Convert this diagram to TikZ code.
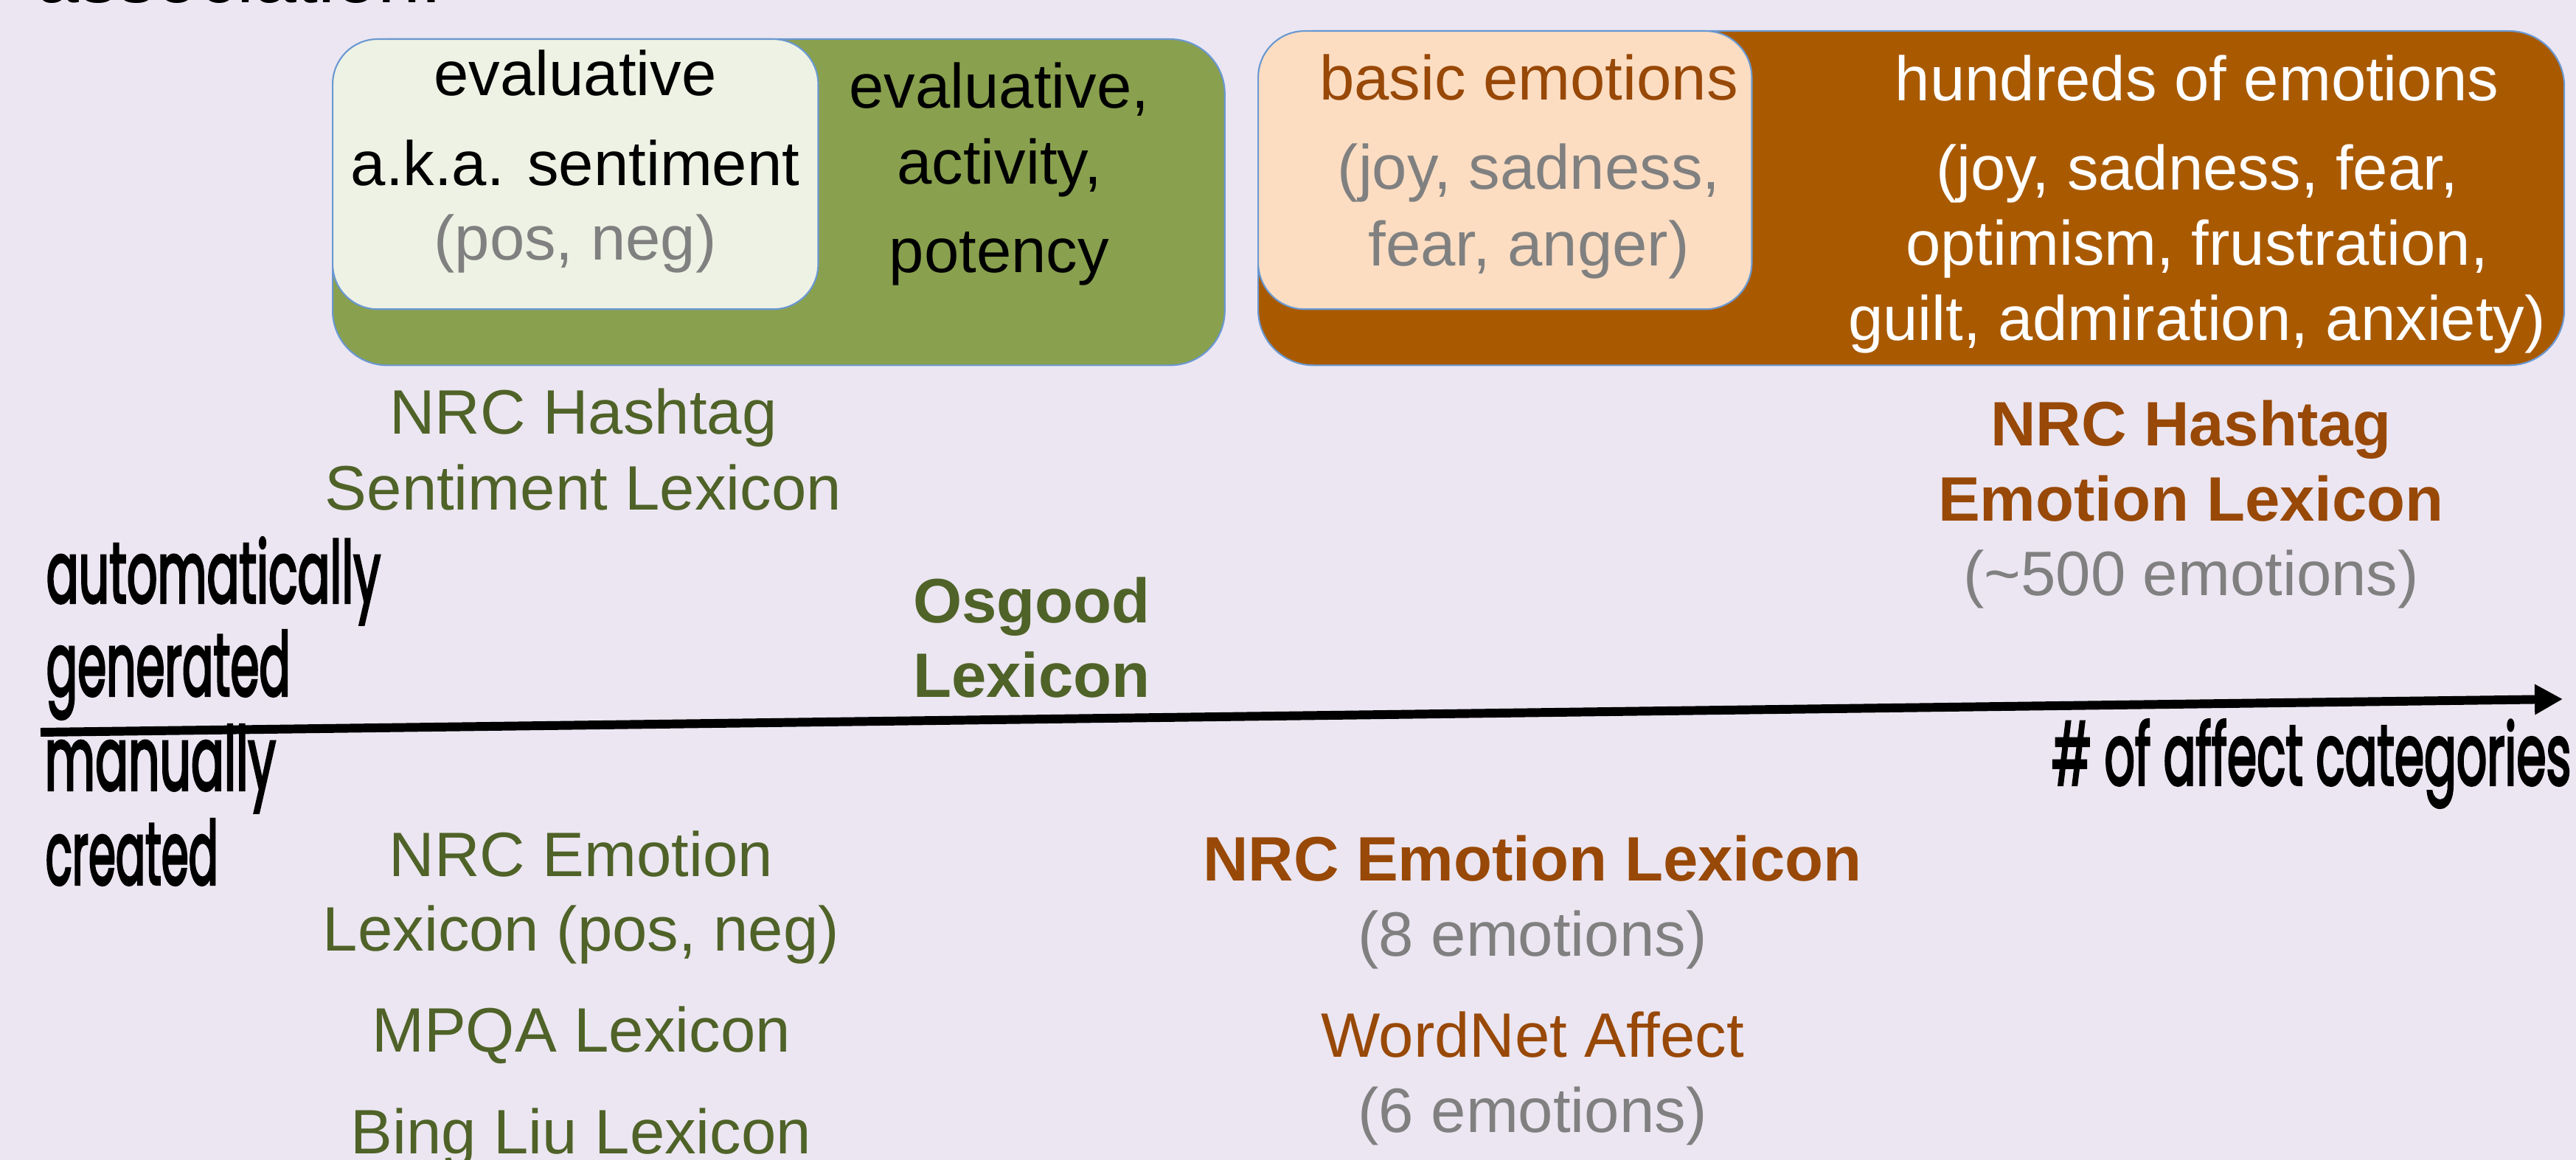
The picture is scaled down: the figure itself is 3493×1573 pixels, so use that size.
\documentclass[tikz,border=0pt]{standalone}
\usepackage{fontspec}
\usepackage{graphicx}
\setmainfont{Liberation Sans}
\newfontfamily\condfont{Poppins}[FakeBold=3.5]
\usetikzlibrary{arrows.meta}
\definecolor{bg}{HTML}{EBE6F1}
\definecolor{gdark}{HTML}{89A04E}
\definecolor{glight}{HTML}{EEF2E4}
\definecolor{odark}{HTML}{A95A00}
\definecolor{olight}{HTML}{FCDDC2}
\definecolor{gtext}{HTML}{4F6228}
\definecolor{otext}{HTML}{984807}
\definecolor{graytext}{HTML}{808080}
\definecolor{bord}{HTML}{6A98D2}
\newcommand{\condtxt}[2]{\resizebox{#1}{0.88cm}{\condfont #2}}
\tikzset{
  lbl/.style={anchor=base, inner sep=0pt, font=\fontsize{24.2pt}{29pt}\selectfont},
  lblb/.style={lbl, font=\fontsize{24.2pt}{29pt}\selectfont\bfseries},
  boxo/.style={draw=bord, line width=0.6pt, anchor=north west, inner sep=0pt},
  axislbl/.style={anchor=base west, inner sep=0pt}
}
\begin{document}
\begin{tikzpicture}[x=0.01cm,y=-0.01cm]
\useasboundingbox (0,0) rectangle (3493,1573);
\clip (0,0) rectangle (3493,1573);
\fill[bg] (0,0) rectangle (3493,1573);

% partial title at top
\node[anchor=base west, inner sep=0pt, font=\fontsize{29.6pt}{34pt}\selectfont] (title) at (49,4) {association.};

% green boxes
\node[boxo, fill=gdark, rounded corners=0.74cm, minimum width=12.09cm, minimum height=4.42cm] (gout) at (450,52) {};
\node[boxo, fill=glight, rounded corners=0.61cm, minimum width=6.58cm, minimum height=3.66cm] (gin) at (450,52) {};

% orange boxes
\node[boxo, fill=odark, rounded corners=0.75cm, minimum width=17.70cm, minimum height=4.53cm] (oout) at (1705,41) {};
\node[boxo, fill=olight, rounded corners=0.63cm, minimum width=6.69cm, minimum height=3.77cm] (oin) at (1705,41) {};

% green box texts
\node[lbl] (g1) at (780,130) {evaluative};
\node[lbl] (g2) at (780,252) {a.k.a. sentiment};
\node[lbl, text=graytext] (g3) at (780,353) {(pos, neg)};
\node[lbl] (g4) at (1355,147) {evaluative,};
\node[lbl] (g5) at (1355,250) {activity,};
\node[lbl] (g6) at (1355,370) {potency};

% orange box texts
\node[lbl, text=otext] (o1) at (2073,136) {basic emotions};
\node[lbl, text=graytext] (o2) at (2073,257) {(joy, sadness,};
\node[lbl, text=graytext] (o3) at (2073,361) {fear, anger)};
\node[lbl, text=white] (o4) at (2979,137) {hundreds of emotions};
\node[lbl, text=white] (o5) at (2979,258) {(joy, sadness, fear,};
\node[lbl, text=white] (o6) at (2979,360) {optimism, frustration,};
\node[lbl, text=white] (o7) at (2979,462) {guilt, admiration, anxiety)};

% upper lexicons
\node[lbl, text=gtext] (hs1) at (791,589) {NRC Hashtag};
\node[lbl, text=gtext] (hs2) at (791,691) {Sentiment Lexicon};
\node[lblb, text=gtext] (os1) at (1399,844) {Osgood};
\node[lblb, text=gtext] (os2) at (1399,945) {Lexicon};
\node[lblb, text=otext] (he1) at (2971,605) {NRC Hashtag};
\node[lblb, text=otext] (he2) at (2971,706) {Emotion Lexicon};
\node[lbl, text=graytext] (he3) at (2971,807) {(\textasciitilde 500 emotions)};

% lower lexicons
\node[lbl, text=gtext] (ne1) at (788,1188) {NRC Emotion};
\node[lbl, text=gtext] (ne2) at (788,1289) {Lexicon (pos, neg)};
\node[lbl, text=gtext] (mp) at (788,1426) {MPQA Lexicon};
\node[lbl, text=gtext] (bl) at (788,1564) {Bing Liu Lexicon};
\node[lblb, text=otext] (nel1) at (2078,1194) {NRC Emotion Lexicon};
\node[lbl, text=graytext] (nel2) at (2078,1296) {(8 emotions)};
\node[lbl, text=otext] (wn1) at (2078,1433) {WordNet Affect};
\node[lbl, text=graytext] (wn2) at (2078,1535) {(6 emotions)};

% axis labels
\node[axislbl] (auto1) at (62,817) {\condtxt{4.53cm}{automatically}};
\node[axislbl] (auto2) at (62,943) {\condtxt{3.31cm}{generated}};
\node[axislbl] (man1) at (60,1071) {\condtxt{3.13cm}{manually}};
\node[axislbl] (man2) at (61,1199) {\condtxt{2.34cm}{created}};
\node[anchor=base east, inner sep=0pt] (cat) at (3487,1064) {\condtxt{7.04cm}{\# of affect categories}};

% axis
\coordinate (axL) at (55,993);
\coordinate (axR) at (3475,948);
\draw[line width=3.4pt, -{Triangle[length=0.38cm,width=0.39cm]}] (axL) -- (axR);
\end{tikzpicture}
\end{document}
